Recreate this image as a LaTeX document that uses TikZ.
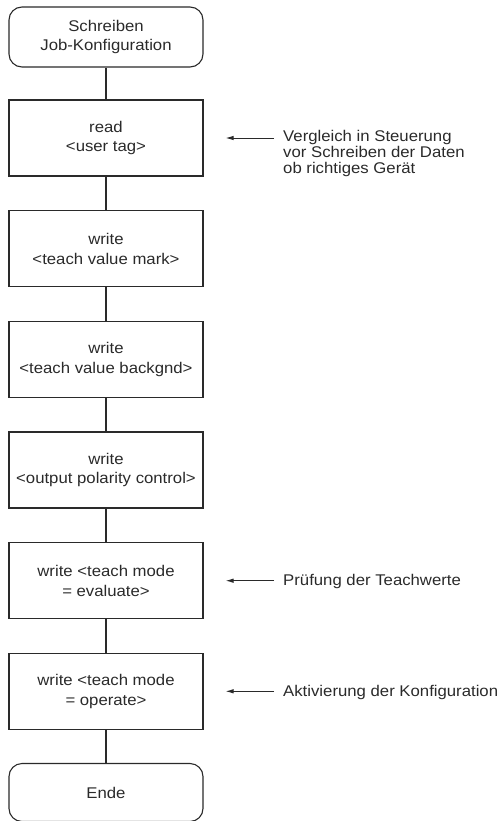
\documentclass[tikz,border=0pt]{standalone}
\usepackage{fontspec}
\setmainfont[FakeStretch=1.08]{Liberation Sans}
\usetikzlibrary{arrows.meta}
\definecolor{ink}{HTML}{2A2A2A}
\begin{document}
\begin{tikzpicture}[x=1bp,y=-1bp,
  every node/.style={text=ink},
  stepbox/.style={draw=ink, line width=1.1bp, minimum width=194bp, minimum height=76bp,
    inner sep=0pt, align=center, font=\fontsize{15.5bp}{19.7bp}\selectfont},
  terminal/.style={stepbox, rounded corners=13bp, minimum height=60bp},
  flow/.style={draw=ink, line width=1.1bp},
  note/.style={inner sep=0pt, align=left, font=\fontsize{15.5bp}{16bp}\selectfont},
  notearrow/.style={draw=ink, line width=1bp, -{Latex[length=8bp,width=4.5bp]}}
]
\useasboundingbox (0,0) rectangle (503,821);

% process chain
\node[terminal] (start) at (106,37) {Schreiben\\Job-Konfiguration};
\node[stepbox] (b1) at (106,138) {read\\<user tag>};
\node[stepbox] (b2) at (106,248.7) {write\\<teach value mark>};
\node[stepbox] (b3) at (106,359.3) {write\\<teach value backgnd>};
\node[stepbox] (b4) at (106,470) {write\\<output polarity control>};
\node[stepbox] (b5) at (106,580.7) {write <teach mode\\= evaluate>};
\node[stepbox] (b6) at (106,691.3) {write <teach mode\\= operate>};
\node[terminal, minimum height=58bp] (end) at (106,792.5) {Ende};

\draw[flow] (start) -- (b1);
\draw[flow] (b1) -- (b2);
\draw[flow] (b2) -- (b3);
\draw[flow] (b3) -- (b4);
\draw[flow] (b4) -- (b5);
\draw[flow] (b5) -- (b6);
\draw[flow] (b6) -- (end);

% remarks on the right
\node[note, anchor=north west] (n1) at (283,130)
  {Vergleich in Steuerung\\vor Schreiben der Daten\\ob richtiges Gerät};
\node[note, anchor=base west] (n2) at (283,585.7) {Prüfung der Teachwerte};
\node[note, anchor=base west] (n3) at (283,696.3) {Aktivierung der Konfiguration};

\draw[notearrow] ([xshift=-9bp]n1.west |- b1.east) -- ([xshift=22bp]b1.east);
\draw[notearrow] ([xshift=-9bp]n2.west |- b5.east) -- ([xshift=22bp]b5.east);
\draw[notearrow] ([xshift=-9bp]n3.west |- b6.east) -- ([xshift=22bp]b6.east);
\end{tikzpicture}
\end{document}
